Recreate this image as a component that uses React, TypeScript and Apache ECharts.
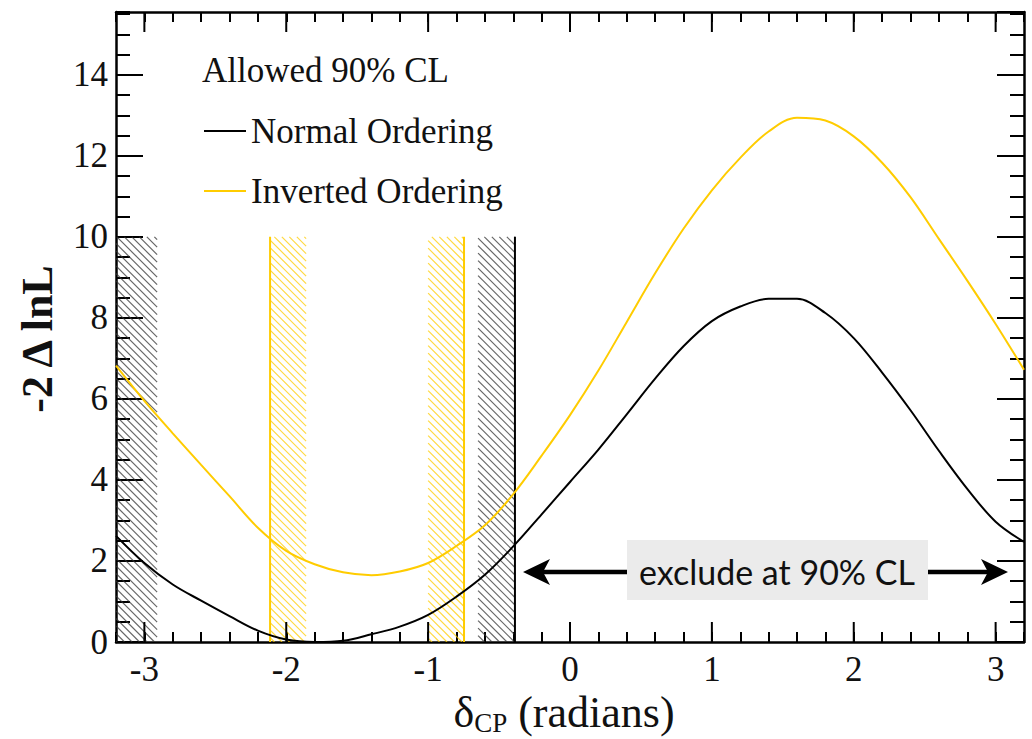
import React, { useEffect, useRef } from "react";
import * as echarts from "echarts";

// ---------------- data ----------------
const deltaCP = [
  -3.2, -3.0, -2.8, -2.6, -2.4, -2.2, -2.0, -1.8, -1.6, -1.4, -1.2, -1.0, -0.8, -0.6, -0.4, -0.2,
  0.0, 0.2, 0.4, 0.6, 0.8, 1.0, 1.2, 1.4, 1.6, 1.8, 2.0, 2.2, 2.4, 2.6, 2.8, 3.0, 3.2,
];
const normalOrdering = [
  2.62, 1.95, 1.42, 1.02, 0.64, 0.28, 0.06, 0.0, 0.03, 0.19, 0.38, 0.67, 1.12, 1.66, 2.36, 3.15,
  3.95, 4.75, 5.62, 6.5, 7.3, 7.92, 8.28, 8.47, 8.47, 8.12, 7.5, 6.65, 5.72, 4.72, 3.78, 2.97, 2.47,
];
const invertedOrdering = [
  6.82, 5.95, 5.15, 4.37, 3.6, 2.82, 2.25, 1.92, 1.72, 1.65, 1.74, 1.95, 2.37, 2.88, 3.65, 4.6,
  5.6, 6.7, 7.9, 9.1, 10.2, 11.15, 11.95, 12.6, 12.94, 12.87, 12.48, 11.83, 10.98, 9.95, 8.92, 7.85, 6.72,
];
// 90% CL allowed-region boundaries (hatched on the allowed side)
const noHatchBands = [
  [-3.2, -2.91],
  [-0.648, -0.388],
];
const ioHatchBands = [
  [-2.114, -1.86],
  [-1.0, -0.747],
];
const noBoundaries = [-0.388];
const ioBoundaries = [-2.114, -0.747];
const bandTop = 10;

// axis ticks
const xMajorTicks = [-3, -2, -1, 0, 1, 2, 3];

const X_MIN = -3.2;
const X_MAX = 3.2;
const Y_MAX = 15.55;

const SERIF = "'Liberation Serif', 'Times New Roman', serif";
const BLACK = "#000000";
const YELLOW = "#FFCC00";

function intLabel(v: number) {
  const r = Math.round(v);
  return Math.abs(v - r) < 1e-6 && xMajorTicks.indexOf(r) >= 0 ? String(r) : "";
}

function measure(text: string, size: number) {
  const c = document.createElement("canvas").getContext("2d");
  if (!c) return text.length * size * 0.5;
  c.font = `${size}px ${SERIF}`;
  return c.measureText(text).width;
}

function makeXAxis(position: string, showLabel: boolean) {
  return {
    type: "value",
    position,
    min: X_MIN,
    max: X_MAX,
    interval: 0.2,
    axisLine: { show: true, onZero: false, lineStyle: { color: BLACK, width: 2.5 } },
    axisTick: { show: true, inside: true, length: 10, lineStyle: { color: BLACK, width: 2 } },
    axisLabel: {
      show: showLabel,
      interval: 0,
      formatter: intLabel,
      margin: 10,
      fontSize: 35,
      fontFamily: SERIF,
      color: "#111",
    },
    splitLine: { show: false },
  };
}

function makeYAxis(position: string, interval: number, tickLen: number, showLine: boolean, showLabel: boolean) {
  return {
    type: "value",
    position,
    min: 0,
    max: Y_MAX,
    interval,
    axisLine: { show: showLine, onZero: false, lineStyle: { color: BLACK, width: 2.5 } },
    axisTick: { show: true, inside: true, length: tickLen, lineStyle: { color: BLACK, width: 2 } },
    axisLabel: {
      show: showLabel,
      interval: 0,
      showMinLabel: true,
      showMaxLabel: false,
      margin: 8,
      fontSize: 35,
      fontFamily: SERIF,
      color: "#111",
    },
    splitLine: { show: false },
  };
}

function hatchRenderer(color: string, opacity: number) {
  return (params: any, api: any) => {
    const x0 = api.value(0);
    const x1 = api.value(1);
    const top = api.value(2);
    const p0 = api.coord([x0, top]);
    const p1 = api.coord([x1, 0]);
    const L = Math.min(p0[0], p1[0]);
    const R = Math.max(p0[0], p1[0]);
    const T = Math.min(p0[1], p1[1]);
    const B = Math.max(p0[1], p1[1]);
    const step = 7.5;
    const children: any[] = [];
    for (let c = Math.floor((T - R) / step) * step; c <= B - L; c += step) {
      const xa = Math.max(L, T - c);
      const xb = Math.min(R, B - c);
      if (xb > xa) {
        children.push({
          type: "line",
          shape: { x1: xa, y1: xa + c, x2: xb, y2: xb + c },
          style: { stroke: color, lineWidth: 1.2, opacity },
        });
      }
    }
    return { type: "group", children };
  };
}

function boundaryRenderer(color: string) {
  return (params: any, api: any) => {
    const x = api.value(0);
    const top = api.value(1);
    const a = api.coord([x, 0]);
    const b = api.coord([x, top]);
    return {
      type: "line",
      shape: { x1: a[0], y1: a[1], x2: b[0], y2: b[1] },
      style: { stroke: color, lineWidth: 2 },
    };
  };
}

function majorTickRenderer(params: any, api: any) {
  const x = api.value(0);
  const a = api.coord([x, 0]);
  const b = api.coord([x, Y_MAX]);
  const st = { stroke: BLACK, lineWidth: 2 };
  return {
    type: "group",
    children: [
      { type: "line", shape: { x1: a[0], y1: a[1], x2: a[0], y2: a[1] - 20 }, style: st },
      { type: "line", shape: { x1: b[0], y1: b[1], x2: b[0], y2: b[1] + 20 }, style: st },
    ],
  };
}

export default function App() {
  const ref = useRef<HTMLDivElement>(null);

  useEffect(() => {
    if (!ref.current) return;
    const chart = echarts.init(ref.current, undefined, { renderer: "svg" });

    // x-axis title: δ_CP (radians) laid out piecewise
    const titleMain = 44;
    const titleSub = 27;
    const wD = measure("\u03b4", titleMain);
    const wS = measure("CP", titleSub);
    const wR = measure(" (radians)", titleMain);
    const tx0 = 564 - (wD + wS + wR) / 2;
    const titleStyle = (size: number) => ({
      fontSize: size,
      fontFamily: SERIF,
      fill: "#111",
      align: "left",
      verticalAlign: "middle",
    });

    const option: any = {
      animation: false,
      backgroundColor: "#ffffff",
      grid: { left: 116, right: 8, top: 12, bottom: 97, containLabel: false, outerBoundsMode: "none" },
      xAxis: [makeXAxis("bottom", true), makeXAxis("top", false)],
      yAxis: [
        makeYAxis("left", 0.5, 14, true, false),
        makeYAxis("left", 2, 27, false, true),
        makeYAxis("right", 0.5, 14, true, false),
        makeYAxis("right", 2, 27, false, false),
      ],
      legend: {
        data: [
          { name: "Normal Ordering", icon: "rect" },
          { name: "Inverted Ordering", icon: "rect" },
        ],
        orient: "vertical",
        left: 199,
        top: 106,
        itemWidth: 42,
        itemHeight: 2,
        itemGap: 20,
        textStyle: { fontSize: 35, fontFamily: SERIF, color: "#111", lineHeight: 40 },
        selectedMode: false,
      },
      series: [
        {
          type: "custom",
          name: "NO allowed",
          renderItem: hatchRenderer("#333333", 0.75),
          data: noHatchBands.map((b) => [b[0], b[1], bandTop]),
          encode: { x: [0, 1], y: 2 },
          clip: true,
          z: 1,
        },
        {
          type: "custom",
          name: "IO allowed",
          renderItem: hatchRenderer(YELLOW, 0.75),
          data: ioHatchBands.map((b) => [b[0], b[1], bandTop]),
          encode: { x: [0, 1], y: 2 },
          clip: true,
          z: 1,
        },
        {
          type: "custom",
          name: "NO boundary",
          renderItem: boundaryRenderer(BLACK),
          data: noBoundaries.map((x) => [x, bandTop]),
          encode: { x: 0, y: 1 },
          clip: true,
          z: 2,
        },
        {
          type: "custom",
          name: "IO boundary",
          renderItem: boundaryRenderer(YELLOW),
          data: ioBoundaries.map((x) => [x, bandTop]),
          encode: { x: 0, y: 1 },
          clip: true,
          z: 2,
        },
        {
          type: "custom",
          name: "major ticks",
          renderItem: majorTickRenderer,
          data: xMajorTicks.map((x) => [x, 0]),
          encode: { x: 0, y: 1 },
          clip: false,
          z: 4,
        },
        {
          type: "line",
          name: "Inverted Ordering",
          data: deltaCP.map((x, i) => [x, invertedOrdering[i]]),
          symbol: "none",
          smooth: 0.35,
          lineStyle: { color: YELLOW, width: 2 },
          itemStyle: { color: YELLOW },
          clip: true,
          z: 3,
        },
        {
          type: "line",
          name: "Normal Ordering",
          data: deltaCP.map((x, i) => [x, normalOrdering[i]]),
          symbol: "none",
          smooth: 0.35,
          lineStyle: { color: BLACK, width: 2 },
          itemStyle: { color: BLACK },
          clip: true,
          z: 3,
        },
      ],
      graphic: [
        {
          type: "text",
          x: 202,
          y: 70,
          style: {
            text: "Allowed 90% CL",
            fontSize: 35,
            fontFamily: SERIF,
            fill: "#111",
            align: "left",
            verticalAlign: "middle",
          },
        },
        {
          type: "text",
          x: 37,
          y: 339,
          rotation: Math.PI / 2,
          style: {
            text: "-2 \u0394 lnL",
            fontSize: 44,
            fontWeight: "bold",
            fontFamily: SERIF,
            fill: "#111",
            align: "center",
            verticalAlign: "middle",
          },
        },
        { type: "text", x: tx0, y: 712, style: { ...titleStyle(titleMain), text: "\u03b4" } },
        { type: "text", x: tx0 + wD, y: 723, style: { ...titleStyle(titleSub), text: "CP" } },
        { type: "text", x: tx0 + wD + wS, y: 712, style: { ...titleStyle(titleMain), text: " (radians)" } },
        // annotation arrow
        {
          type: "line",
          shape: { x1: 540, y1: 572, x2: 990, y2: 572 },
          style: { stroke: BLACK, lineWidth: 4.5 },
          z: 10,
        },
        {
          type: "polygon",
          shape: { points: [[523, 572], [550, 559], [543, 572], [550, 585]] },
          style: { fill: BLACK },
          z: 10,
        },
        {
          type: "polygon",
          shape: { points: [[1008, 572], [981, 559], [988, 572], [981, 585]] },
          style: { fill: BLACK },
          z: 10,
        },
        {
          type: "rect",
          shape: { x: 627, y: 540, width: 301, height: 60 },
          style: { fill: "#EBEBEB" },
          z: 11,
        },
        {
          type: "text",
          x: 777,
          y: 571,
          z: 12,
          style: {
            text: "exclude at 90% CL",
            fontSize: 34,
            fontFamily: "Lato, 'Open Sans', sans-serif",
            fill: "#111",
            align: "center",
            verticalAlign: "middle",
          },
        },
      ],
    };

    chart.setOption(option);
    return () => {
      chart.dispose();
    };
  }, []);

  return (
    <div
      ref={ref}
      style={{ position: "absolute", left: 0, top: 0, width: 1032, height: 739, background: "#fff" }}
    />
  );
}
